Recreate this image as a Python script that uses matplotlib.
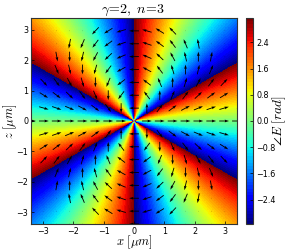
import numpy as np
import matplotlib
matplotlib.use("Agg")
import matplotlib.pyplot as plt

plt.rcParams['mathtext.fontset'] = 'cm'
plt.rcParams['font.family'] = 'DejaVu Sans'

extent_um = 3.38
grid_count = 17
x_ticks = [-3, -2, -1, 0, 1, 2, 3]
z_ticks = [-3, -2, -1, 0, 1, 2, 3]
cbar_ticks = [-2.4, -1.6, -0.8, 0.0, 0.8, 1.6, 2.4]

# phase against polar angle: one rising ramp per sector, sector limits
sector_start_deg = [-29.5, 29.5, 90, 150.5, 209.5, 270, 330.5]
sector_end_deg = [29.5, 90, 150.5, 209.5, 270, 330.5, 390]
phase_start = [-3.1416, -3.1416, -3.1416, -3.1416, -3.1416, -3.1416, -3.1416]
phase_end = [3.1416, 3.1416, 3.1416, 3.1416, 3.1416, 3.1416, 3.1416]

# arrow direction against polar angle, arrow length against radius
arrow_polar_deg = [0, 18, 50, 90, 135, 180, 225, 270, 310, 342, 360]
arrow_dir_deg = [0, 36, 100, 180, 270, 360, 450, 540, 620, 684, 720]
arrow_radius = [0.0, 0.2, 0.4, 3.385, 3.395, 5.0]
arrow_length = [0.0, 0.0, 1.0, 1.0, 0.03, 0.03]

fig = plt.figure(figsize=(2.91, 2.52), dpi=100)
W, H = 291.0, 252.0
ax = fig.add_axes([31/W, 1-224/H, 206/W, 206/H])
cax = fig.add_axes([246/W, 1-224/H, 6.7/W, 206/H])

cmap = plt.get_cmap('jet', 64)
xs = np.linspace(-extent_um, extent_um, 500)
X, Z = np.meshgrid(xs, xs)
theta = np.degrees(np.arctan2(Z, X)) % 360


def phase_of(t):
    out = np.zeros_like(t)
    for a, b, p0, p1 in zip(sector_start_deg, sector_end_deg, phase_start, phase_end):
        m = (t >= a) & (t < b)
        out[m] = p0 + (p1 - p0) * (t[m] - a) / (b - a)
    return out


im = ax.imshow(phase_of(theta), origin='lower', cmap=cmap, vmin=-np.pi, vmax=np.pi,
               extent=[-extent_um, extent_um, -extent_um, extent_um],
               interpolation='nearest', aspect='auto')

gx = np.linspace(-extent_um, extent_um, grid_count)
GX, GZ = np.meshgrid(gx, gx)
gr = np.hypot(GX, GZ)
gt = np.degrees(np.arctan2(GZ, GX)) % 360
gdir = np.radians(np.interp(gt, arrow_polar_deg, arrow_dir_deg))
glen = np.interp(gr, arrow_radius, arrow_length)
ax.quiver(GX, GZ, glen*np.cos(gdir), glen*np.sin(gdir), pivot='mid', color='k',
          angles='uv', scale_units='width', scale=21.0, width=0.0042,
          headwidth=3.2, headlength=5, headaxislength=4.5, minlength=0.5, clip_on=True)

ax.set_xlim(-extent_um, extent_um)
ax.set_ylim(-extent_um, extent_um)
ax.set_xticks(x_ticks)
ax.set_yticks(z_ticks)
ax.tick_params(direction='in', length=2.5, width=0.5, labelsize=5.8, pad=2)
for s in ax.spines.values():
    s.set_linewidth(0.8)
    s.set_color('#333333')

cb = fig.colorbar(im, cax=cax, ticks=cbar_ticks)
cb.ax.set_yticklabels(['\u2212%.1f' % abs(v) if v < 0 else '%.1f' % v for v in cbar_ticks])
cb.ax.tick_params(direction='in', length=2.5, width=0.5, labelsize=5.8, pad=2.5)
cb.outline.set_linewidth(0.8)
cb.outline.set_edgecolor('#333333')

fig.text(133/W, 1-10/H, r'$\gamma\!=\!2,\;n\!=\!3$', ha='center', va='center', fontsize=10)
fig.text(134/W, 1-242.5/H, r'$x\ [\mu m]$', ha='center', va='center', fontsize=9)
fig.text(10/W, 1-121/H, r'$z\ [\mu m]$', ha='center', va='center', rotation=90, fontsize=9)
fig.text(279/W, 1-121/H, r'$\angle E\ [rad]$', ha='center', va='center', rotation=90, fontsize=9.5)

fig.savefig('out.png', dpi=100)
